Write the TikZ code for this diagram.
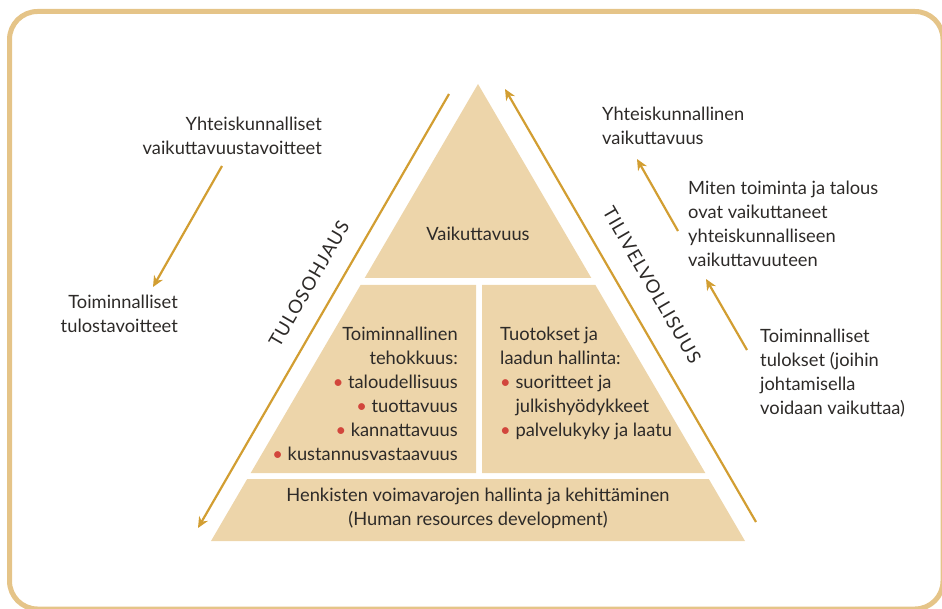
\documentclass[tikz,border=0pt]{standalone}
\usepackage{fontspec}
\setmainfont{Lato}
\newfontfamily\spacedfont[LetterSpace=6]{Lato}
\usetikzlibrary{arrows.meta}
\definecolor{framec}{RGB}{229,196,136}
\definecolor{sand}{RGB}{237,213,170}
\definecolor{gold}{RGB}{210,158,50}
\definecolor{ink}{RGB}{45,42,40}
\definecolor{dotc}{RGB}{210,70,60}
\newcommand{\dotitem}{{\color{dotc}\textbullet}\ }

\begin{document}
\begin{tikzpicture}[
		x=1pt,y=-1pt,
		>={Stealth[length=11pt,width=10pt,inset=3.5pt]},
		font=\fontsize{18.3}{24}\selectfont,
		txt/.style={inner sep=0pt,align=left,text=ink},
		side/.style={inner sep=0pt,text=ink,font=\spacedfont\fontsize{18.5}{20}\selectfont},
		piece/.style={fill=sand,draw=none},
		]
		\useasboundingbox (0,0) rectangle (942,609);
		\draw[framec,line width=5pt,rounded corners=28pt] (9.5,11.5) rectangle (943,609);
		
		\fill[piece] (478,84) -- (591.3,278) -- (364.7,278) -- cycle;
		\fill[piece] (360.6,285) -- (476,285) -- (476,473) -- (250.7,473) -- cycle;
		\fill[piece] (482,285) -- (595.4,285) -- (705.3,473) -- (482,473) -- cycle;
		\fill[piece] (247.2,479) -- (708.8,479) -- (745,541) -- (211,541) -- cycle;
		
		\node[txt,anchor=base] (top) at (478,241) {Vaikuttavuus};
		\node[txt,anchor=base east,align=right] (eff) at (458,460) {Toiminnallinen\\tehokkuus:\\\dotitem taloudellisuus\\\dotitem tuottavuus\\\dotitem kannattavuus\\\dotitem kustannusvastaavuus};
		\node[txt,anchor=base west] (out) at (500,436) {Tuotokset ja\\laadun hallinta:\\\dotitem suoritteet ja\\\phantom{\dotitem}julkishyödykkeet\\\dotitem palvelukyky ja laatu};
		\node[txt,anchor=base,align=center] (hr) at (478,525) {Henkisten voimavarojen hallinta ja kehittäminen\\(Human resources development)};
		
		\node[txt,anchor=base east,align=right] (goals) at (322,155) {Yhteiskunnalliset\\vaikuttavuustavoitteet};
		\node[txt,anchor=base east,align=right] (targets) at (178,333) {Toiminnalliset\\tulostavoitteet};
		\node[txt,anchor=base west] (impact) at (602,145) {Yhteiskunnallinen\\vaikuttavuus};
		\node[txt,anchor=base west] (how) at (688,267) {Miten toiminta ja talous\\ovat vaikuttaneet\\yhteiskunnalliseen\\vaikuttavuuteen};
		\node[txt,anchor=base west] (results) at (760,414) {Toiminnalliset\\tulokset (joihin\\johtamisella\\voidaan vaikuttaa)};
		
		\node[side,rotate=60] (tulos) at (309,284) {TULOSOHJAUS};
		\node[side,rotate=-60] (tili) at (652,285) {TILIVELVOLLISUUS};
		
		\coordinate (tulos-start) at (449,94);
		\coordinate (tulos-end) at (198,528);
		\coordinate (tili-start) at (756,522);
		\coordinate (tili-end) at (505,89);
		\coordinate (goals-out) at (222,166);
		\coordinate (targets-in) at (153,287);
		\coordinate (how-out) at (678,231);
		\coordinate (impact-in) at (637,159);
		\coordinate (results-out) at (747,350);
		\coordinate (how-in) at (706,279);
		
		\path[->,gold,line width=2.2pt]
		(tulos-start) edge (tulos-end)
		(tili-start) edge (tili-end)
		(goals-out) edge (targets-in)
		(how-out) edge (impact-in)
		(results-out) edge (how-in)
		;
		
\end{tikzpicture}
\end{document}
